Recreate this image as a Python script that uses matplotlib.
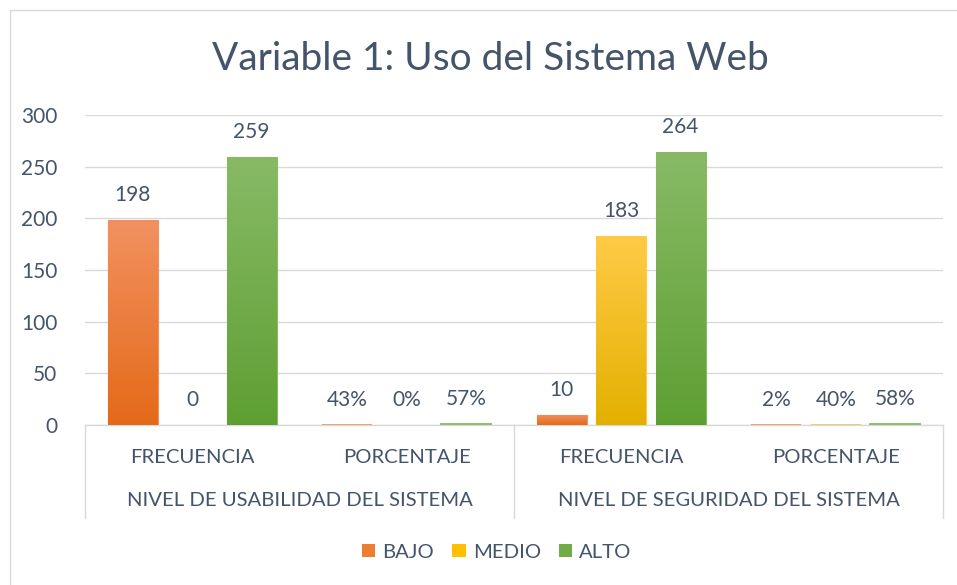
import numpy as np
import matplotlib
matplotlib.use("Agg")
import matplotlib.pyplot as plt
from matplotlib.colors import LinearSegmentedColormap
from matplotlib.patches import Rectangle
from matplotlib.lines import Line2D
import matplotlib.transforms as mtransforms

plt.rcParams['font.family'] = ['Lato', 'DejaVu Sans']

# ---- data ----
title = "Variable 1: Uso del Sistema Web"
categories = ["FRECUENCIA", "PORCENTAJE", "FRECUENCIA", "PORCENTAJE"]
groups = ["NIVEL DE USABILIDAD DEL SISTEMA", "NIVEL DE SEGURIDAD DEL SISTEMA"]
series = ["BAJO", "MEDIO", "ALTO"]
bajo = [198, 0.43, 10, 0.02]
medio = [0, 0.00, 183, 0.40]
alto = [259, 0.57, 264, 0.58]
bajo_labels = ["198", "43%", "10", "2%"]
medio_labels = ["0", "0%", "183", "40%"]
alto_labels = ["259", "57%", "264", "58%"]
yticks = [0, 50, 100, 150, 200, 250, 300]

values = [bajo, medio, alto]
labels = [bajo_labels, medio_labels, alto_labels]
grad = [("#F29160", "#E46A18"), ("#FFCB47", "#E3B000"), ("#88BA66", "#5E9F32")]
mid = ["#ED7D31", "#FFC000", "#70AD47"]
thin = ["#F0A070", "#F5CC60", "#8CBF6C"]
text_col = "#44546A"
grid_col = "#D9D9D9"
num_fs = 15
txt_fs = 14.6

W, H = 957, 585
fig = plt.figure(figsize=(W / 100, H / 100), dpi=100)
# outer border
fig.patches.append(Rectangle((10 / W, -0.01), 1.0, 1 - 10 / H + 0.01,
                             transform=fig.transFigure, fill=False,
                             edgecolor="#D9D9D9", lw=1.0))

ax = fig.add_axes([85 / W, 1 - 425 / H, (943 - 85) / W, (425 - 115) / H])
ax.set_xlim(-0.5, 3.5)
ax.set_ylim(0, 300)

x = np.arange(len(categories))
width = 0.233
offsets = [-0.277, 0.0, 0.277]

for i in range(3):
    vals = np.array(values[i], dtype=float)
    lws = [1.4 if 0 < v < 2 else (0.8 if v > 0 else 0) for v in vals]
    ecs = [thin[i] if 0 < v < 2 else grad[i][0] for v in vals]
    bars = ax.bar(x + offsets[i], vals, width, color=grad[i][0],
                  edgecolor=ecs, linewidth=lws, zorder=3)
    cmap = LinearSegmentedColormap.from_list("g%d" % i, [grad[i][1], grad[i][0]])
    for b, v, lab in zip(bars, vals, labels[i]):
        x0 = b.get_x()
        x1 = x0 + b.get_width()
        h = b.get_height()
        if h > 2:
            im = ax.imshow(np.linspace(0, 1, 256).reshape(-1, 1), cmap=cmap,
                           aspect="auto", origin="lower",
                           extent=(x0, x1, 0, h), zorder=3.5)
            im.set_clip_path(b)
        ax.annotate(lab, (x0 + b.get_width() / 2, h), xytext=(0, 25),
                    textcoords="offset pixels", ha="center", va="center",
                    fontsize=num_fs, color=text_col, zorder=5)

ax.set_xlim(-0.5, 3.5)
ax.set_ylim(0, 300)
ax.set_yticks(yticks)
ax.set_yticklabels([str(t) for t in yticks])
ax.tick_params(axis="y", length=0, pad=20, labelsize=num_fs, labelcolor=text_col)
ax.grid(axis="y", color=grid_col, lw=1.0, zorder=0)
for s in ["top", "right", "left"]:
    ax.spines[s].set_visible(False)
ax.spines["bottom"].set_color(grid_col)
ax.spines["bottom"].set_linewidth(1.0)
ax.spines["bottom"].set_zorder(2)

ax.set_xticks(x)
ax.set_xticklabels(categories)
ax.tick_params(axis="x", length=0, pad=17, labelsize=txt_fs, labelcolor=text_col)

trans = mtransforms.blended_transform_factory(ax.transData, ax.transAxes)
sep_bottom = -(518 - 425) / (425 - 115)
for xs in [-0.5, 1.5, 3.5]:
    ax.add_line(Line2D([xs, xs], [0, sep_bottom], transform=trans,
                       color=grid_col, lw=1.0, clip_on=False))
grp_y = -(500 - 425) / (425 - 115)
for gi, g in enumerate(groups):
    ax.text(2 * gi + 0.5, grp_y, g, transform=trans, ha="center", va="center",
            fontsize=txt_fs, color=text_col)

fig.text(490 / W, 1 - 59 / H, title, ha="center", va="center",
         fontsize=28, color=text_col)

handles = [Rectangle((0, 0), 1, 1, facecolor=mid[i]) for i in range(3)]
fig.legend(handles, series, loc="center", bbox_to_anchor=(497 / W, 1 - 552 / H),
           ncol=3, frameon=False, fontsize=txt_fs, labelcolor=text_col,
           handlelength=0.65, handleheight=0.65, handletextpad=0.35,
           columnspacing=0.9)

fig.savefig("out.png", dpi=100)
